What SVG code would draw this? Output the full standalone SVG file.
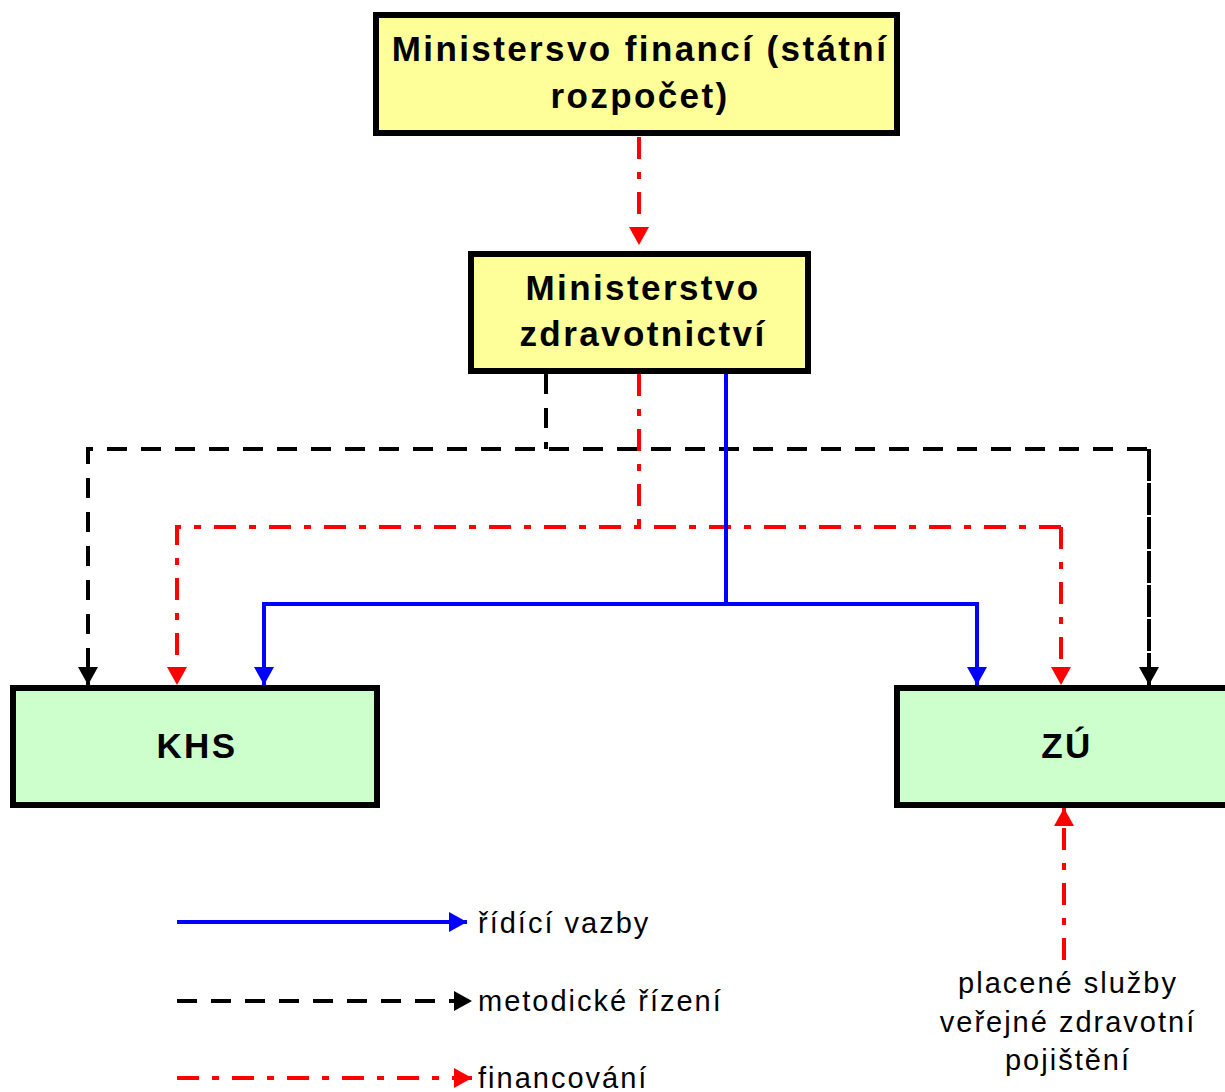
<svg xmlns="http://www.w3.org/2000/svg" width="1225" height="1092" viewBox="0 0 1225 1092">
<defs>
<style>
.box{stroke:#000;stroke-width:6}
.y{fill:#ffff99}
.g{fill:#ccffcc}
.t{font-family:"Liberation Sans",Arial,sans-serif;font-weight:bold;font-size:35px;letter-spacing:2.4px;fill:#000;text-anchor:middle}
.l{font-family:"Liberation Sans",Arial,sans-serif;font-size:29px;letter-spacing:2px;fill:#000}
.blue{stroke:#0000ff;stroke-width:4;fill:none}
.black{stroke:#000;stroke-width:4;fill:none;stroke-dasharray:20 14}
.red{stroke:#ff0000;stroke-width:4;fill:none;stroke-dasharray:22 13 7 13}
</style>
<marker id="ab" markerUnits="userSpaceOnUse" markerWidth="20" markerHeight="20" refX="18" refY="10" orient="auto"><path d="M0,0 L18,10 L0,20 Z" fill="#0000ff"/></marker>
<marker id="ak" markerUnits="userSpaceOnUse" markerWidth="20" markerHeight="20" refX="18" refY="10" orient="auto"><path d="M0,0 L18,10 L0,20 Z" fill="#000"/></marker>
<marker id="ar" markerUnits="userSpaceOnUse" markerWidth="20" markerHeight="20" refX="18" refY="10" orient="auto"><path d="M0,0 L18,10 L0,20 Z" fill="#ff0000"/></marker>
</defs>
<rect width="1225" height="1092" fill="#fff"/>
<g id="connectors">
<path class="red" d="M639,137 V245" marker-end="url(#ar)"/>
<path class="black" d="M546,374 V449"/>
<path class="black" d="M1149,685 V449 H88 V685" marker-end="url(#ak)"/>
<path class="black" d="M1149,449 V685" marker-end="url(#ak)"/>
<path class="red" d="M639,374 V527"/>
<path class="red" d="M1061,527 H177 V685" marker-end="url(#ar)"/>
<path class="red" d="M1061,527 V685" marker-end="url(#ar)"/>
<path class="blue" d="M726,374 V604"/>
<path class="blue" d="M726,604 H264 V685" marker-end="url(#ab)"/>
<path class="blue" d="M726,604 H977 V685" marker-end="url(#ab)"/>
<path class="red" d="M1064,960 V808" marker-end="url(#ar)"/>
</g>
<g id="node-mf">
<rect class="box y" x="376" y="15" width="521" height="118"/>
<text class="t" x="640" y="61">Ministersvo financí (státní</text>
<text class="t" x="640" y="108">rozpočet)</text>
</g>
<g id="node-mz">
<rect class="box y" x="471" y="254" width="337" height="117"/>
<text class="t" x="643" y="300">Ministerstvo</text>
<text class="t" x="643" y="346">zdravotnictví</text>
</g>
<g id="node-khs">
<rect class="box g" x="13" y="688" width="364" height="117"/>
<text class="t" x="197" y="758">KHS</text>
</g>
<g id="node-zu">
<rect class="box g" x="897" y="688" width="340" height="117"/>
<text class="t" x="1067" y="758">ZÚ</text>
</g>
<g id="note">
<text class="l" x="1068" y="993" text-anchor="middle">placené služby</text>
<text class="l" x="1068" y="1032" text-anchor="middle">veřejné zdravotní</text>
<text class="l" x="1068" y="1070" text-anchor="middle">pojištění</text>
</g>
<g id="legend">
<path class="blue" d="M177,922 H467" marker-end="url(#ab)"/>
<text class="l" x="478" y="933">řídící vazby</text>
<path class="black" d="M177,1001 H472" marker-end="url(#ak)"/>
<text class="l" x="478" y="1011">metodické řízení</text>
<path class="red" d="M177,1078 H472" marker-end="url(#ar)"/>
<text class="l" x="478" y="1088">financování</text>
</g>
</svg>
